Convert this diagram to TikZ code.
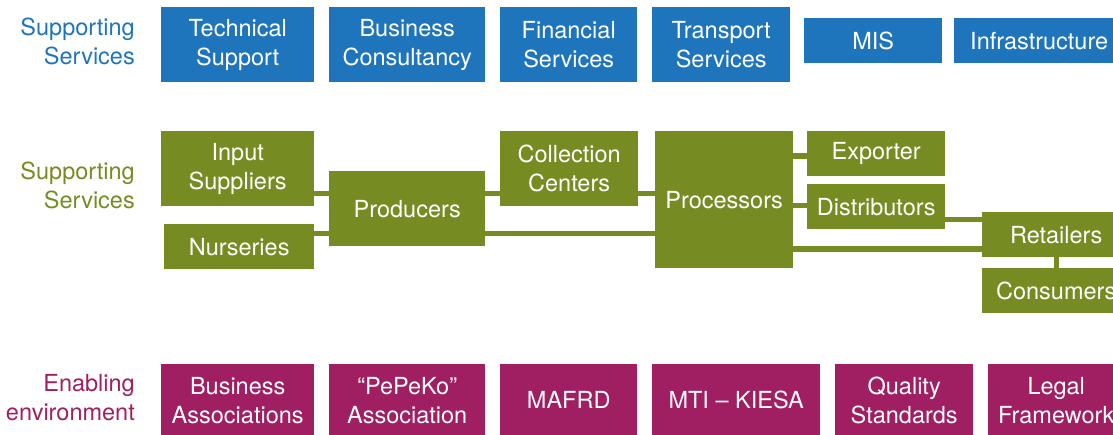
\documentclass[tikz,border=0pt]{standalone}
\usepackage{fontspec}
\setmainfont{TeX Gyre Heros}
\definecolor{svcblue}{HTML}{1F75BC}
\definecolor{chaingreen}{HTML}{768C22}
\definecolor{envmagenta}{HTML}{A01E62}
\begin{document}
\begin{tikzpicture}[x=1pt,y=-1pt,
  txt/.style={font=\fontsize{23.5}{29}\selectfont},
  box/.style={txt, rectangle, inner sep=0pt, anchor=north west, align=center, text=white},
  bluebox/.style={box, fill=svcblue},
  greenbox/.style={box, fill=chaingreen},
  magbox/.style={box, fill=envmagenta},
  lab/.style={txt, anchor=east, align=right, inner sep=0pt},
  link/.style={draw=chaingreen, line width=5.5pt},
  sz/.style 2 args={minimum width=#1pt, minimum height=#2pt}]
\useasboundingbox (0,0) rectangle (1113,434);
\clip (0,0) rectangle (1113,434);

% row labels
\node[lab, text=svcblue] (lblsup) at (135,41) {Supporting\\Services};
\node[lab, text=chaingreen] (lblchain) at (135,185) {Supporting\\Services};
\node[lab, text=envmagenta] (lblenv) at (135,398) {Enabling\\environment};

% supporting services
\node[bluebox, sz={153}{75}] (tech)  at (161,7)  {Technical\\Support};
\node[bluebox, sz={156}{75}] (bcons) at (329,7)  {Business\\Consultancy};
\node[bluebox, sz={137}{75}] (fin)   at (500,7)  {Financial\\Services};
\node[bluebox, sz={138}{75}] (trans) at (652,7)  {Transport\\Services};
\node[bluebox, sz={138}{45}] (mis)   at (804,18) {MIS};
\node[bluebox, sz={170}{45}] (infra) at (954,18) {Infrastructure};

% value chain
\node[greenbox, sz={153}{75}]  (ins)  at (161,131) {Input\\Suppliers};
\node[greenbox, sz={150}{45}]  (nur)  at (164,224) {Nurseries};
\node[greenbox, sz={156}{75}]  (prod) at (329,171) {Producers};
\node[greenbox, sz={138}{75}]  (coll) at (500,131) {Collection\\Centers};
\node[greenbox, sz={138}{137}] (proc) at (655,131) {Processors};
\node[greenbox, sz={138}{45}]  (exp)  at (807,131) {Exporter};
\node[greenbox, sz={138}{45}]  (dist) at (807,184) {Distributors};
\node[greenbox, sz={148}{45}]  (ret)  at (982,212) {Retailers};
\node[greenbox, sz={148}{45}]  (cons) at (982,268) {Consumers};

% value chain links
\draw[link] (ins.east |- 0,193.5)  -- (prod.west |- 0,193.5);
\draw[link] (nur.east |- 0,233.5)  -- (prod.west |- 0,233.5);
\draw[link] (prod.east |- 0,193.5) -- (coll.west |- 0,193.5);
\draw[link] (prod.east |- 0,233.5) -- (proc.west |- 0,233.5);
\draw[link] (coll.east |- 0,193.5) -- (proc.west |- 0,193.5);
\draw[link] (proc.east |- 0,156)   -- (exp.west |- 0,156);
\draw[link] (proc.east |- 0,205.5) -- (dist.west |- 0,205.5);
\draw[link] (dist.east |- 0,219.5) -- (ret.west |- 0,219.5);
\draw[link] (proc.east |- 0,249)   -- (ret.west |- 0,249);
\draw[link] (ret.south -| 1056.5,0) -- (cons.north -| 1056.5,0);

% enabling environment
\node[magbox, sz={153}{72}] (bassoc) at (161,364) {Business\\Associations};
\node[magbox, sz={156}{72}] (pepeko) at (329,364) {“PePeKo”\\Association};
\node[magbox, sz={137}{72}] (mafrd)  at (500,364) {MAFRD};
\node[magbox, sz={168}{72}] (mti)    at (652,364) {MTI – KIESA};
\node[magbox, sz={138}{72}] (qual)   at (835,364) {Quality\\Standards};
\node[magbox, sz={136}{72}] (legal)  at (988,364) {Legal\\Framework};
\end{tikzpicture}
\end{document}
